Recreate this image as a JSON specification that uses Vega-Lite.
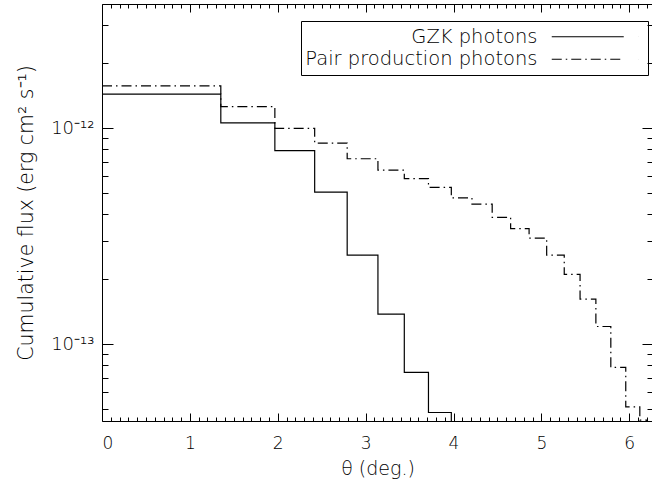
{
  "$schema": "https://vega.github.io/schema/vega-lite/v6.json",
  "autosize": {"type": "none"},
  "width": 551,
  "height": 417,
  "padding": {"left": 102, "top": 4, "right": 0, "bottom": 61},
  "background": "white",
  "data": {"values": [
    {"series": "GZK photons", "theta": 0, "flux": 1.44e-12},
    {"series": "GZK photons", "theta": 1.352, "flux": 1.06e-12},
    {"series": "GZK photons", "theta": 1.967, "flux": 7.88e-13},
    {"series": "GZK photons", "theta": 2.42, "flux": 5.07e-13},
    {"series": "GZK photons", "theta": 2.79, "flux": 2.59e-13},
    {"series": "GZK photons", "theta": 3.14, "flux": 1.38e-13},
    {"series": "GZK photons", "theta": 3.44, "flux": 7.42e-14},
    {"series": "GZK photons", "theta": 3.715, "flux": 4.84e-14},
    {"series": "GZK photons", "theta": 3.975, "flux": 2.5e-14},
    {"series": "GZK photons", "theta": 4.3, "flux": 2.5e-14},
    {"series": "Pair production photons", "theta": 0, "flux": 1.57e-12},
    {"series": "Pair production photons", "theta": 1.352, "flux": 1.26e-12},
    {"series": "Pair production photons", "theta": 1.967, "flux": 1.0e-12},
    {"series": "Pair production photons", "theta": 2.42, "flux": 8.53e-13},
    {"series": "Pair production photons", "theta": 2.79, "flux": 7.23e-13},
    {"series": "Pair production photons", "theta": 3.14, "flux": 6.41e-13},
    {"series": "Pair production photons", "theta": 3.44, "flux": 5.85e-13},
    {"series": "Pair production photons", "theta": 3.715, "flux": 5.33e-13},
    {"series": "Pair production photons", "theta": 3.975, "flux": 4.76e-13},
    {"series": "Pair production photons", "theta": 4.21, "flux": 4.46e-13},
    {"series": "Pair production photons", "theta": 4.44, "flux": 3.87e-13},
    {"series": "Pair production photons", "theta": 4.65, "flux": 3.43e-13},
    {"series": "Pair production photons", "theta": 4.86, "flux": 3.10e-13},
    {"series": "Pair production photons", "theta": 5.06, "flux": 2.59e-13},
    {"series": "Pair production photons", "theta": 5.26, "flux": 2.11e-13},
    {"series": "Pair production photons", "theta": 5.44, "flux": 1.62e-13},
    {"series": "Pair production photons", "theta": 5.62, "flux": 1.21e-13},
    {"series": "Pair production photons", "theta": 5.79, "flux": 7.83e-14},
    {"series": "Pair production photons", "theta": 5.96, "flux": 5.14e-14},
    {"series": "Pair production photons", "theta": 6.12, "flux": 4.46e-14},
    {"series": "Pair production photons", "theta": 6.2, "flux": 2.5e-14},
    {"series": "Pair production photons", "theta": 6.5, "flux": 2.5e-14}
  ]},
  "layer": [
    {
      "mark": {"type": "line", "interpolate": "step-after", "clip": true, "color": "black", "strokeWidth": 1.2},
      "encoding": {
        "x": {"field": "theta", "type": "quantitative",
          "scale": {"domain": [0, 6.27], "nice": false, "zero": false},
          "axis": {"orient": "bottom", "values": [0, 1, 2, 3, 4, 5, 6], "format": "d", "tickSize": -8, "labelPadding": 22, "title": "θ (deg.)", "titlePadding": 8}},
        "y": {"field": "flux", "type": "quantitative",
          "scale": {"type": "log", "domain": [4.42e-14, 3.76e-12], "nice": false},
          "axis": {"orient": "left", "values": [1e-13, 1e-12], "tickSize": -11, "labelPadding": 19, "labelFontSize": 18,
            "labelExpr": "datum.value > 5e-13 ? '10⁻¹²' : '10⁻¹³'",
            "title": "Cumulative flux (erg cm² s⁻¹)", "titlePadding": 14, "titleFontSize": 20.5}},
        "strokeDash": {"field": "series", "type": "nominal",
          "scale": {"domain": ["GZK photons", "Pair production photons"], "range": [[1, 0], [10, 4, 1.5, 4]]},
          "legend": {"orient": "none", "legendX": 199, "legendY": 17, "title": null,
            "labelAlign": "right", "labelOffset": -24, "symbolOffset": 235,
            "symbolType": "M0,0H10.286M12.4,0H12.41", "symbolSize": 196,
            "symbolStrokeWidth": 1.2, "symbolStrokeColor": "black", "symbolFillColor": "transparent",
            "strokeColor": "black", "padding": 6,
            "labelFontSize": 19.5, "labelFont": "DejaVu Sans", "labelFontWeight": 200,
            "labelColor": "black", "rowPadding": 1.5, "labelLimit": 400}}
      }
    },
    {
      "mark": {"type": "line", "opacity": 0},
      "encoding": {
        "x": {"field": "theta", "type": "quantitative",
          "axis": {"orient": "bottom", "values": [0.1,0.2,0.3,0.4,0.5,0.6,0.7,0.8,0.9,1.1,1.2,1.3,1.4,1.5,1.6,1.7,1.8,1.9,2.1,2.2,2.3,2.4,2.5,2.6,2.7,2.8,2.9,3.1,3.2,3.3,3.4,3.5,3.6,3.7,3.8,3.9,4.1,4.2,4.3,4.4,4.5,4.6,4.7,4.8,4.9,5.1,5.2,5.3,5.4,5.5,5.6,5.7,5.8,5.9,6.1,6.2], "tickSize": -4, "labels": false, "title": null}},
        "y": {"field": "flux", "type": "quantitative",
          "axis": {"orient": "left", "values": [5e-14,6e-14,7e-14,8e-14,9e-14,2e-13,3e-13,4e-13,5e-13,6e-13,7e-13,8e-13,9e-13,2e-12,3e-12], "tickSize": -6, "labels": false, "title": null}}
      }
    },
    {
      "mark": {"type": "line", "opacity": 0},
      "encoding": {
        "x": {"field": "theta", "type": "quantitative",
          "axis": {"orient": "top", "values": [0, 1, 2, 3, 4, 5, 6], "tickSize": -8, "labels": false, "title": null}},
        "y": {"field": "flux", "type": "quantitative",
          "axis": {"orient": "right", "values": [1e-13, 1e-12], "tickSize": -11, "labels": false, "title": null}}
      }
    },
    {
      "mark": {"type": "line", "opacity": 0},
      "encoding": {
        "x": {"field": "theta", "type": "quantitative",
          "axis": {"orient": "top", "values": [0.1,0.2,0.3,0.4,0.5,0.6,0.7,0.8,0.9,1.1,1.2,1.3,1.4,1.5,1.6,1.7,1.8,1.9,2.1,2.2,2.3,2.4,2.5,2.6,2.7,2.8,2.9,3.1,3.2,3.3,3.4,3.5,3.6,3.7,3.8,3.9,4.1,4.2,4.3,4.4,4.5,4.6,4.7,4.8,4.9,5.1,5.2,5.3,5.4,5.5,5.6,5.7,5.8,5.9,6.1,6.2], "tickSize": -4, "labels": false, "title": null}},
        "y": {"field": "flux", "type": "quantitative",
          "axis": {"orient": "right", "values": [5e-14,6e-14,7e-14,8e-14,9e-14,2e-13,3e-13,4e-13,5e-13,6e-13,7e-13,8e-13,9e-13,2e-12,3e-12], "tickSize": -6, "labels": false, "title": null}}
      }
    }
  ],
  "resolve": {"axis": {"x": "independent", "y": "independent"}},
  "config": {
    "view": {"stroke": "black", "strokeWidth": 1},
    "axis": {"domain": false, "grid": false, "tickColor": "black", "tickWidth": 1,
      "labelColor": "black", "titleColor": "black",
      "labelFont": "DejaVu Sans", "titleFont": "DejaVu Sans",
      "labelFontSize": 17, "titleFontSize": 19, "labelFontWeight": 200, "titleFontWeight": 200}
  }
}
